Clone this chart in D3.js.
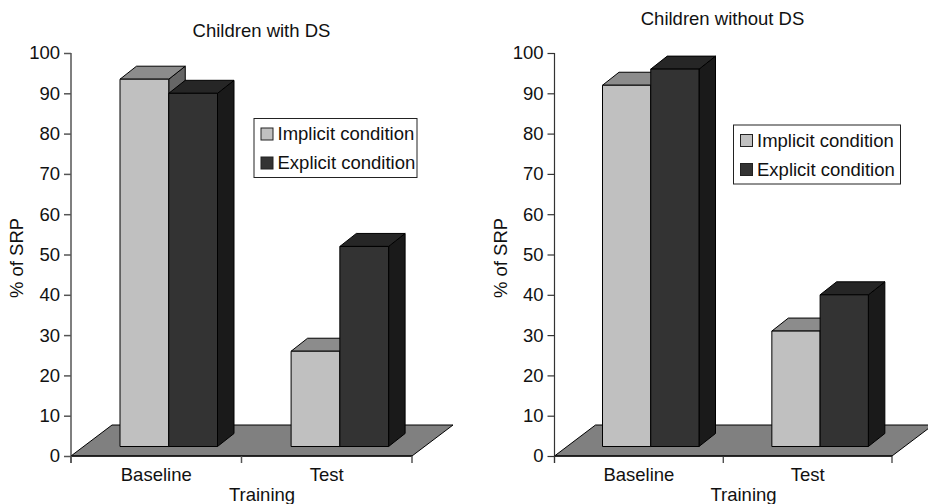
<!DOCTYPE html>
<html>
<head>
<meta charset="utf-8">
<script src="https://cdn.jsdelivr.net/npm/d3@7"></script>
<style>
    body { margin: 0; background: #fff; }
    svg { display: block; }
    text { font-family: "Liberation Sans", Arial, sans-serif; fill: #111; }
</style>
</head>
<body>
<div id="chart"></div>
<script>
const categories = ["Baseline", "Test"];
const conditions = ["Implicit condition", "Explicit condition"];
const yTicks = d3.range(0, 101, 10);

// read against the back wall scale, front face top
const withDS = [[93.5, 90], [26, 52]];
const withoutDS = [[92, 96], [31, 40]];

const colors = {
    "Implicit condition": {front: "#c0c0c0", top: "#8c8c8c", side: "#666666"},
    "Explicit condition": {front: "#333333", top: "#262626", side: "#1a1a1a"}
};

const svg = d3.select("#chart").append("svg")
    .attr("width", 928)
    .attr("height", 504);

const depthX = 41, depthY = 31;   // floor depth
const barDX = 16.5, barDY = 13;   // bar depth
const floorGap = 9.5;             // bar foot sits above the axis line
const fontSize = 18.5;

function drawPanel(cfg) {
    const g = svg.append("g").attr("transform", `translate(${cfg.left},0)`);

    const x = d3.scaleBand().domain(categories).range([0, cfg.width]);
    const xInner = d3.scaleBand().domain(conditions).range(cfg.barRange);
    const y = d3.scaleLinear().domain([0, 100]).range([456, 53]);

    // floor
    g.append("path")
        .attr("d", `M0,${y(0)}L${cfg.width},${y(0)}L${cfg.width + depthX},${y(0) - depthY}L${depthX},${y(0) - depthY}Z`)
        .attr("fill", "#808080")
        .attr("stroke", "#000")
        .attr("stroke-width", 1);

    // axes
    const yAxis = d3.axisLeft(y).tickValues(yTicks).tickSize(7).tickPadding(4);
    const xAxis = d3.axisBottom(x).tickSize(0).tickPadding(12);

    const yG = g.append("g").call(yAxis);
    yG.selectAll("path, line").attr("stroke", cfg.axisColor).attr("stroke-width", cfg.axisWidth);
    yG.select(".domain").attr("d", `M0,${y(100)}V${y(0) + 7}`);
    yG.selectAll("text").attr("font-size", fontSize).attr("font-family", null);

    const xG = g.append("g").attr("transform", `translate(0,${y(0)})`).call(xAxis);
    xG.select(".domain").attr("d", `M0,0H${cfg.width}`).attr("stroke", "#111").attr("stroke-width", 1.5);
    xG.selectAll("text").attr("font-size", fontSize).attr("font-family", null);

    g.selectAll(".x-tick")
        .data([0, cfg.width / 2, cfg.width])
        .join("line")
        .attr("class", "x-tick")
        .attr("x1", d => d).attr("x2", d => d)
        .attr("y1", y(0)).attr("y2", y(0) + 7)
        .attr("stroke", cfg.axisColor)
        .attr("stroke-width", cfg.axisWidth);

    // bars, back to front
    const foot = y(0) - floorGap;
    cfg.data.forEach((vals, i) => {
        vals.forEach((v, j) => {
            const name = conditions[j];
            const x0 = x(categories[i]) + xInner(name) + (i * 0.6);
            const x1 = x0 + xInner.bandwidth();
            const top = y(v);
            const bar = g.append("g")
                .attr("stroke", "#000")
                .attr("stroke-width", 1)
                .attr("stroke-linejoin", "round");
            bar.append("path")
                .attr("d", `M${x1},${foot}L${x1 + barDX},${foot - barDY}V${top - barDY}L${x1},${top}Z`)
                .attr("fill", colors[name].side);
            bar.append("path")
                .attr("d", `M${x0},${top}L${x0 + barDX},${top - barDY}H${x1 + barDX}L${x1},${top}Z`)
                .attr("fill", colors[name].top);
            bar.append("rect")
                .attr("x", x0).attr("y", top)
                .attr("width", x1 - x0).attr("height", foot - top)
                .attr("fill", colors[name].front);
        });
    });

    // titles
    g.append("text")
        .attr("x", cfg.titleX).attr("y", cfg.titleY)
        .attr("text-anchor", "middle").attr("font-size", fontSize)
        .text(cfg.title);
    g.append("text")
        .attr("x", cfg.trainingX).attr("y", 501)
        .attr("text-anchor", "middle").attr("font-size", fontSize)
        .text("Training");
    g.append("text")
        .attr("transform", `translate(${cfg.yTitleX},258) rotate(-90)`)
        .attr("text-anchor", "middle").attr("font-size", fontSize)
        .text("% of SRP");

    // legend
    const lg = g.append("g").attr("transform", `translate(${cfg.legend.x},${cfg.legend.y})`);
    lg.append("rect")
        .attr("width", cfg.legend.w).attr("height", cfg.legend.h)
        .attr("fill", "#fff").attr("stroke", "#222").attr("stroke-width", 1);
    conditions.forEach((name, i) => {
        const row = lg.append("g").attr("transform", `translate(7,${9.5 + i * 29})`);
        row.append("rect")
            .attr("width", 12).attr("height", 12)
            .attr("fill", colors[name].front)
            .attr("stroke", "#222");
        row.append("text")
            .attr("x", 16.5).attr("y", 12)
            .attr("font-size", fontSize)
            .text(name);
    });
}

drawPanel({
    left: 71, width: 341, data: withDS, barRange: [49, 146.5],
    axisColor: "#555", axisWidth: 1.5,
    title: "Children with DS", titleX: 190.5, titleY: 37,
    trainingX: 191, yTitleX: -48,
    legend: {x: 183, y: 118.5, w: 163, h: 59}
});

drawPanel({
    left: 554.5, width: 337.5, data: withoutDS, barRange: [48, 144.5],
    axisColor: "#333", axisWidth: 1.2,
    title: "Children without DS", titleX: 168, titleY: 25,
    trainingX: 189, yTitleX: -48,
    legend: {x: 179, y: 125, w: 167, h: 59}
});
</script>
</body>
</html>
